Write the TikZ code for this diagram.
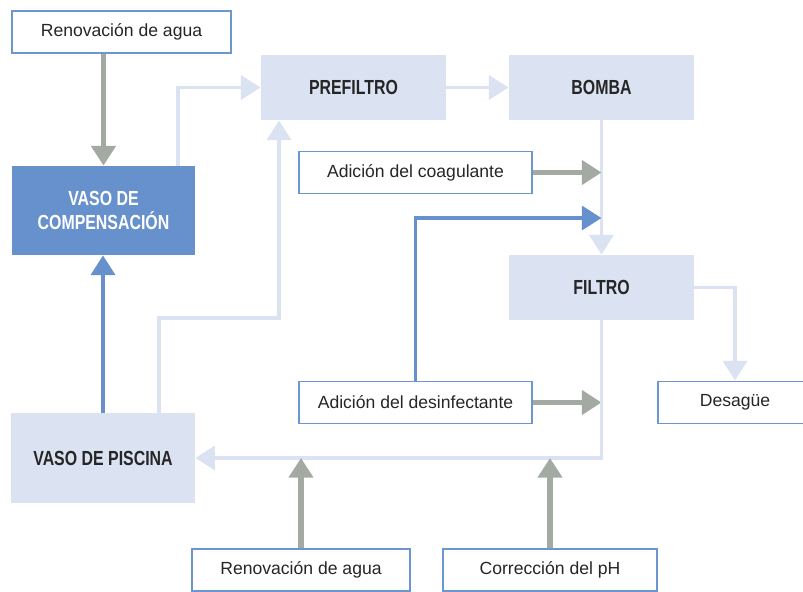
\documentclass[tikz,border=0pt]{standalone}
\usepackage{fontspec}
\setmainfont{Liberation Sans}
\newfontfamily\condbf{Liberation Sans}[FakeStretch=0.78]
\definecolor{edgeblue}{RGB}{108, 150, 210}
\definecolor{deepblue}{RGB}{103, 145, 204}
\definecolor{paleblue}{RGB}{219, 227, 242}
\definecolor{flowgray}{RGB}{162, 170, 162}
\definecolor{inkgray}{RGB}{38, 38, 38}
\usetikzlibrary{arrows.meta, calc}

\begin{document}
\begin{tikzpicture}[
  x=0.025cm, y=-0.025cm,
  lbox/.style={draw=edgeblue, fill=white, line width=1.4pt, minimum height=1.05cm, inner sep=2pt, text=inkgray, font=\fontsize{12.5}{15}\selectfont},
  pbox/.style={fill=paleblue, minimum width=4.63cm, minimum height=1.63cm, align=center, text=inkgray, font=\fontsize{14.5}{17}\selectfont\condbf\bfseries},
  dbox/.style={fill=deepblue, minimum width=4.58cm, minimum height=2.23cm, align=center, text=white, font=\fontsize{14.5}{17}\selectfont\condbf\bfseries},
  tip/.style={-{Triangle[length=14pt, width=17pt]}},
  grayflow/.style={tip, draw=flowgray, line width=3.6pt},
  paleflow/.style={tip, draw=paleblue, line width=2.8pt},
  blueflow/.style={tip, draw=deepblue, line width=2.8pt}
]
  \useasboundingbox (0,0) rectangle (803,592);

  \node[lbox, minimum width=5.48cm] (renA) at (121.5, 32) {Renovación de agua};
  \node[dbox] (comp) at (103.5, 210.5) {VASO DE\\COMPENSACIÓN};
  \node[pbox] (prefiltro) at (353.5, 87.5) {PREFILTRO};
  \node[pbox] (bomba) at (601.5, 87.5) {BOMBA};
  \node[lbox, minimum width=5.83cm] (coag) at (415.5, 172.5) {Adición del coagulante};
  \node[pbox] (filtro) at (601.5, 287.5) {FILTRO};
  \node[lbox, minimum width=5.83cm] (desinf) at (415.5, 402.5) {Adición del desinfectante};
  \node[lbox, minimum width=3.85cm] (desague) at (735, 402.5) {Desagüe};
  \node[pbox, minimum width=4.6cm, minimum height=2.25cm] (piscina) at (103, 458) {VASO DE PISCINA};
  \node[lbox, minimum width=5.45cm] (renB) at (301, 570) {Renovación de agua};
  \node[lbox, minimum width=5.35cm] (corr) at (550, 570) {Corrección del pH};

  \coordinate (dosis) at (601.5, 218);
  \coordinate (rodeo) at (279, 318);

  \draw[grayflow] (renA.south -| comp.north) -- (comp.north);
  \draw[paleflow] ($(comp.north east)+(-17,0)$) |- (prefiltro.west);
  \draw[paleflow] (prefiltro) -- (bomba);
  \draw[paleflow] (bomba) -- (filtro);
  \draw[grayflow] (coag.east) -- (coag.east -| bomba.south);
  \draw[blueflow] (desinf.north) |- (dosis);
  \draw[grayflow] (desinf.east) -- (desinf.east -| filtro.south);
  \draw[paleflow] (filtro.east) -| (desague.north);
  \draw[paleflow] (filtro.south) |- (piscina.east);
  \draw[blueflow] (piscina.north) -- (piscina.north |- comp.south);
  \draw[paleflow] ($(piscina.north)+(56,0)$) |- (rodeo) -- (rodeo |- prefiltro.south);
  \draw[grayflow] (renB.north) -- (renB.north |- piscina.east);
  \draw[grayflow] (corr.north) -- (corr.north |- piscina.east);
\end{tikzpicture}
\end{document}
